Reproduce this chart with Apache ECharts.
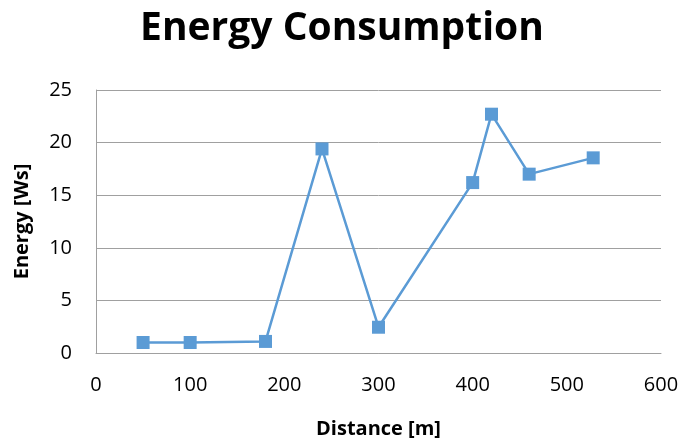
<!DOCTYPE html>
<html><head><meta charset="utf-8">
<script src="https://cdn.jsdelivr.net/npm/echarts@6/dist/echarts.min.js"></script>
<style>html,body{margin:0;padding:0;background:#fff}#c{width:684px;height:443px}</style>
</head><body><div id="c"></div>
<script>
const distance = [50, 100, 180, 240, 300, 400, 420, 460, 528];
const energy = [1.0, 1.0, 1.1, 19.4, 2.45, 16.2, 22.7, 17.0, 18.55];
const titleText = 'Energy Consumption';
const xName = 'Distance [m]';
const yName = 'Energy [Ws]';
const F = '"Open Sans", "Liberation Sans", sans-serif';
const chart = echarts.init(document.getElementById('c'));
chart.setOption({
  backgroundColor: '#fff',
  animation: false,
  title: { text: titleText, left: 'center', top: 4,
    textStyle: { fontFamily: F, fontSize: 39, fontWeight: 'bold', color: '#000' } },
  grid: { left: 96, right: 23, top: 90, bottom: 90, containLabel: false, outerBoundsMode: 'none' },
  xAxis: { type: 'value', min: 0, max: 600, interval: 100,
    name: xName, nameLocation: 'middle', nameGap: 66,
    nameTextStyle: { fontFamily: F, fontSize: 20, fontWeight: 'bold', color: '#000' },
    axisLine: { show: true, lineStyle: { color: '#A0A0A0', width: 1 } },
    axisTick: { show: false }, splitLine: { show: false },
    axisLabel: { fontFamily: F, fontSize: 20, color: '#000', margin: 22 } },
  yAxis: { type: 'value', min: 0, max: 25, interval: 5,
    name: yName, nameLocation: 'middle', nameGap: 64, nameRotate: 90,
    nameTextStyle: { fontFamily: F, fontSize: 20, fontWeight: 'bold', color: '#000' },
    axisLine: { show: true, lineStyle: { color: '#A0A0A0', width: 1 } },
    axisTick: { show: false },
    splitLine: { show: true, lineStyle: { color: '#A0A0A0', width: 1 } },
    axisLabel: { fontFamily: F, fontSize: 20, color: '#000', margin: 24 } },
  series: [{ type: 'line', data: distance.map((d, i) => [d, energy[i]]),
    symbol: 'rect', symbolSize: 13,
    lineStyle: { color: '#5B9BD5', width: 2.5 },
    itemStyle: { color: '#5B9BD5' } }]
});
</script></body></html>
